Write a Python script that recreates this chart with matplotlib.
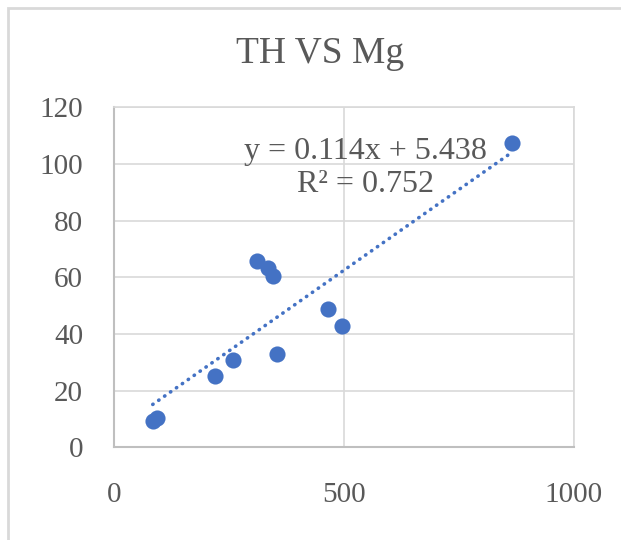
import matplotlib
matplotlib.use("Agg")
import matplotlib.pyplot as plt
from matplotlib.patches import Rectangle

# values
mg = [85, 95, 220, 260, 311, 335, 346, 356, 466, 496, 866]
th = [9.3, 10.5, 25.2, 30.8, 65.9, 63.2, 60.6, 32.9, 48.7, 42.8, 107.3]
slope = 0.114
intercept = 5.438
r2 = 0.752
x_ticks = [0, 500, 1000]
y_ticks = [0, 20, 40, 60, 80, 100, 120]

blue = '#4472C4'
text_grey = '#595959'
grid_grey = '#D9D9D9'

plt.rcParams['font.family'] = ['Liberation Serif', 'DejaVu Serif']

fig = plt.figure(figsize=(6.21, 5.40), dpi=100)
ax = fig.add_axes([0.183, 0.1717, 0.741, 0.6296])

# outer chart border (only top/left visible in the crop)
fig.patches.append(Rectangle((8 / 621, -0.1), 1.2, 1 - 8 / 540 + 0.1,
                             transform=fig.transFigure, fill=False,
                             edgecolor=grid_grey, linewidth=2))

ax.scatter(mg, th, s=135, color=blue, zorder=3, linewidths=0)

# linear trendline across the data range
x0, x1 = min(mg), max(mg)
ax.plot([x0, x1], [slope * x0 + intercept, slope * x1 + intercept],
        color=blue, linewidth=2.6, linestyle=(0, (0.1, 1.9)),
        dash_capstyle='round', zorder=2)

ax.text(547, 104.3, f"y = {slope:.3f}x + {intercept:.3f}", ha='center', va='center',
        fontsize=23, color=text_grey, zorder=4)
ax.text(547, 92.9, f"R² = {r2:.3f}", ha='center', va='center',
        fontsize=23, color=text_grey, zorder=4)

ax.set_xlim(0, 1000)
ax.set_ylim(0, 120)
ax.set_xticks(x_ticks)
ax.set_yticks(y_ticks)
ax.grid(True, color=grid_grey, linewidth=1.2)
ax.set_axisbelow(True)
ax.tick_params(length=0, labelsize=21, labelcolor=text_grey)
ax.tick_params(axis='y', pad=22)
ax.tick_params(axis='x', pad=25)
for side in ['top', 'right']:
    ax.spines[side].set_color(grid_grey)
    ax.spines[side].set_linewidth(1.2)
for side in ['left', 'bottom']:
    ax.spines[side].set_color('#BFBFBF')
    ax.spines[side].set_linewidth(1.5)

fig.text(320 / 621, 1 - 63 / 540, "TH VS Mg", ha='center', va='baseline',
         fontsize=27, color=text_grey)

fig.savefig("out.png", dpi=100)
